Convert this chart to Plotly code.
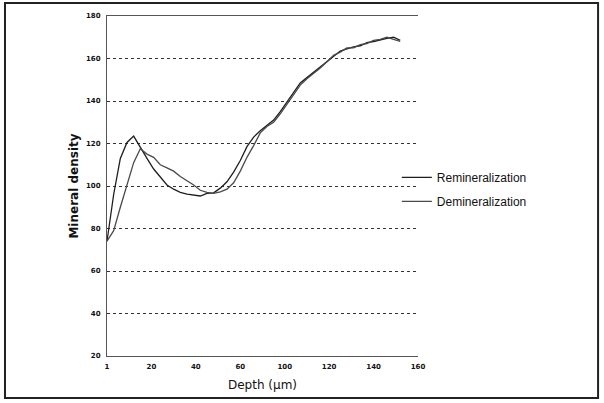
import plotly.graph_objects as go

depth = [0, 3, 6, 9, 12, 15, 18, 21, 24, 27, 30, 33, 36, 39, 42, 45, 48, 51, 54, 57,
         60, 63, 66, 69, 72, 75, 78, 81, 84, 87, 90, 93, 96, 99, 102, 105, 108, 111,
         114, 117, 120, 123, 126, 129, 132]

remineralization = [74, 96, 113, 120.5, 123.5, 118, 113, 108, 104, 100.5, 98.5, 97, 96.2,
                    95.6, 95.3, 96.5, 96.8, 99, 102, 106.5, 112, 118.5, 123, 126, 128.5,
                    131, 135, 139.5, 144, 148.5, 151, 153.5, 156, 158.5, 161, 163.5, 164.5,
                    165.5, 166, 167.5, 168, 168.8, 169.5, 170, 168.5]

demineralization = [74, 79, 90, 101, 111, 117.5, 115, 113.5, 110, 108.5, 107, 104.5, 102.5,
                    100.5, 98, 97, 96.5, 97.2, 98.5, 101.5, 107, 113.5, 119, 125, 128, 130,
                    134, 138.5, 143, 147.5, 150.5, 153, 155.5, 158.5, 161.5, 163, 165, 165,
                    166.5, 167, 168.5, 169, 170, 169, 168]

x_tickvals = [0, 20, 40, 60, 80, 100, 120, 140]
x_ticktext = ["1", "20", "40", "60", "100", "120", "140", "160"]
y_tickvals = [20, 40, 60, 80, 100, 120, 140, 160, 180]

fig = go.Figure()
fig.add_trace(go.Scatter(x=depth, y=remineralization, mode="lines", name="Remineralization",
                         legendgroup="a", line=dict(color="#1e1e1e", width=1.3)))
fig.add_trace(go.Scatter(x=depth, y=demineralization, mode="lines", name="Demineralization",
                         legendgroup="b", line=dict(color="#4a4a4a", width=1.3)))

tickfont = dict(family="DejaVu Sans", size=7, color="#111", weight="bold")

fig.update_layout(
    width=604, height=403,
    margin=dict(l=107, r=186, t=16, b=47, autoexpand=False),
    paper_bgcolor="white", plot_bgcolor="white",
    showlegend=True,
    legend=dict(x=0.932, y=0.49, xanchor="left", yanchor="middle",
                font=dict(family="Liberation Sans", size=12, color="#111"),
                tracegroupgap=5, bgcolor="rgba(0,0,0,0)"),
    xaxis=dict(range=[0, 140], tickvals=x_tickvals, ticktext=x_ticktext,
               tickfont=tickfont, showgrid=False, zeroline=False, automargin=False,
               showline=True, mirror=True, linecolor="#555", linewidth=1, ticks="",
               ticklabelstandoff=4,
               title=dict(text="Depth (μm)", standoff=10,
                          font=dict(family="DejaVu Sans", size=12, color="#111"))),
    yaxis=dict(range=[20, 180], tickvals=y_tickvals, tickfont=tickfont, automargin=False,
               showgrid=True, gridcolor="#333", griddash="dot", gridwidth=1,
               zeroline=False, showline=True, linecolor="#555", linewidth=1, ticks="",
               ticklabelstandoff=4,
               title=dict(text="Mineral density", standoff=4,
                          font=dict(family="DejaVu Sans", size=12, color="#111", weight="bold"))),
    shapes=[
        dict(type="rect", xref="paper", yref="paper",
             x0=-0.328, x1=1.579, y0=-0.1235, y1=1.038,
             line=dict(color="#222", width=2), fillcolor="rgba(0,0,0,0)"),
    ],
)

fig.write_html("out.html", config={"displayModeBar": False},
               post_script="document.body.style.margin='0';document.body.style.overflow='hidden';")
